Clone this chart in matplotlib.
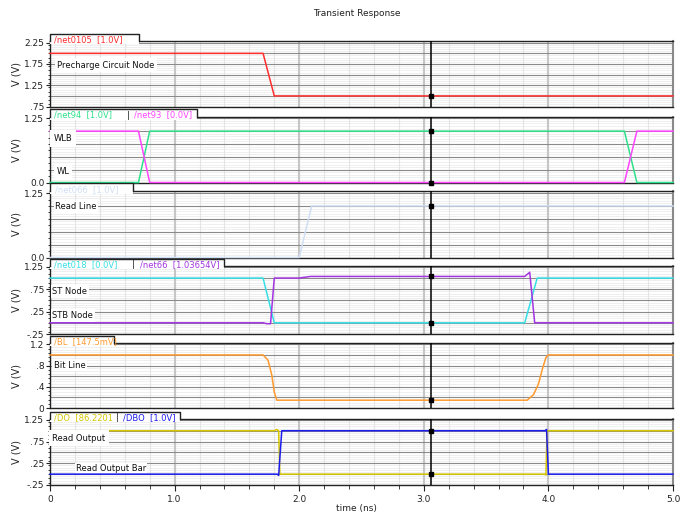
import matplotlib
matplotlib.use("Agg")
import matplotlib.pyplot as plt
from matplotlib.ticker import MultipleLocator
from matplotlib.patches import Rectangle
from matplotlib.lines import Line2D
import numpy as np

# waveform breakpoints (time in ns, value in V)
net0105_t = [0, 1.71, 1.80, 5.0]
net0105_v = [2.0, 2.0, 1.0, 1.0]

net94_t = [0, 0.71, 0.80, 4.61, 4.71, 5.0]
net94_v = [0.0, 0.0, 1.0, 1.0, 0.0, 0.0]
net93_t = [0, 0.71, 0.80, 4.61, 4.71, 5.0]
net93_v = [1.0, 1.0, 0.0, 0.0, 1.0, 1.0]

net066_t = [0, 2.0, 2.1, 5.0]
net066_v = [0.0, 0.0, 1.0, 1.0]

net018_t = [0, 1.71, 1.80, 3.81, 3.91, 5.0]
net018_v = [1.0, 1.0, 0.0, 0.0, 1.0, 1.0]
net66_t = [0, 1.71, 1.74, 1.77, 1.80, 2.0, 2.09, 3.81, 3.85, 3.89, 5.0]
net66_v = [0.0, 0.0, -0.02, -0.02, 1.0, 1.0, 1.03654, 1.03654, 1.13, 0.0, 0.0]

bl_t = [0, 1.71, 1.75, 1.78, 1.80, 1.82, 3.83, 3.88, 3.92, 3.95, 3.98, 4.0, 5.0]
bl_v = [1.0, 1.0, 0.9, 0.62, 0.3, 0.1475, 0.1475, 0.25, 0.45, 0.72, 0.95, 1.0, 1.0]

# DO low level is 86.2201 nV
do_t = [0, 1.80, 1.82, 1.835, 1.845, 3.97, 3.98, 3.99, 5.0]
do_v = [1.0, 1.0, 1.03, 1.0, 86.2201e-9, 86.2201e-9, -0.02, 1.0, 1.0]
dbo_t = [0, 1.825, 1.835, 1.86, 3.975, 3.985, 4.0, 5.0]
dbo_v = [0.0, 0.0, -0.03, 1.0, 1.0, 1.03, 0.0, 0.0]

cursor_t = 3.06

# y tick labels per strip
p1_ticks = [0.75, 1.25, 1.75, 2.25]
p1_labels = [".75", "1.25", "1.75", "2.25"]
p2_ticks = [0.0, 1.25]
p2_labels = ["0.0", "1.25"]
p4_ticks = [-0.25, 0.25, 0.75, 1.25]
p4_labels = ["-.25", ".25", ".75", "1.25"]
p5_ticks = [0.0, 0.4, 0.8, 1.2]
p5_labels = ["0", ".4", ".8", "1.2"]

x_ticks = [0, 1, 2, 3, 4, 5]
x_labels = ["0", "1.0", "2.0", "3.0", "4.0", "5.0"]

W, H = 694, 515
fig = plt.figure(figsize=(W / 100, H / 100), dpi=100)
fig.patch.set_facecolor("white")


def fx(x):
    return x / W


def fy(y):
    return 1 - y / H


def strip(top, bottom, ylim, ticks, labels, grid_step, minor_step):
    ax = fig.add_axes([fx(50), fy(bottom), fx(623), (bottom - top) / H])
    ax.set_xlim(0, 5)
    ax.set_ylim(*ylim)
    ax.xaxis.set_major_locator(MultipleLocator(1.0))
    ax.xaxis.set_minor_locator(MultipleLocator(0.2))
    ax.yaxis.set_minor_locator(MultipleLocator(minor_step))
    ax.set_yticks(ticks)
    ax.set_yticklabels(labels)
    # horizontal gridlines: dark every grid_step, faint fine lines
    lo, hi = ylim
    for yv in np.arange(np.ceil(lo / 0.05) * 0.05, hi, 0.05):
        ax.axhline(yv, color="#ececec", lw=0.6, zorder=0.5)
    for yv in np.arange(np.ceil(lo / grid_step) * grid_step, hi, grid_step):
        ax.axhline(yv, color="#8a8a8a", lw=0.8, zorder=1)
    for xv in np.arange(0.2, 5.0, 0.2):
        ax.axvline(xv, color="#e4e4e4", lw=0.8, zorder=0.6)
    for xv in [1, 2, 3, 4]:
        ax.axvline(xv, color="#c6c6c6", lw=1.5, zorder=0.7)
    ax.tick_params(axis="y", which="major", length=3, labelsize=6.5,
                   colors="#222222", pad=1)
    ax.tick_params(axis="y", which="minor", length=1.5, colors="#222222")
    ax.tick_params(axis="x", which="both", bottom=False, labelbottom=False)
    for s in ["left", "top", "bottom"]:
        ax.spines[s].set_color("#222222")
        ax.spines[s].set_linewidth(1.0)
    ax.spines["right"].set_color("#8a8a8a")
    ax.spines["right"].set_linewidth(1.5)
    ax.set_ylabel("V (V)", fontsize=7, labelpad=2, color="#222222")
    ax.yaxis.set_label_coords(-0.045, 0.5)
    # cursor
    ax.axvline(cursor_t, color="black", lw=1.1, zorder=6)
    return ax


def trace(ax, t, v, color, lw=1.1):
    ax.plot(t, v, color=color, lw=lw, clip_on=False, zorder=5)
    ax.plot([cursor_t], [np.interp(cursor_t, t, v)], "s", color="black",
            ms=3, zorder=7, clip_on=False)


def tab(top, right, texts):
    ttop = top - 7.5
    fig.add_artist(Rectangle((fx(50), fy(top + 3)), fx(right - 50), (top + 3 - ttop) / H,
                             transform=fig.transFigure, fc="white", ec="none", zorder=8))
    fig.add_artist(Line2D([fx(50), fx(50), fx(right), fx(right)],
                          [fy(top), fy(ttop), fy(ttop), fy(top)],
                          transform=fig.transFigure, color="#222222", lw=1.0, zorder=9))
    for x, s, c in texts:
        fig.text(fx(x), fy(top - 1.5), s, color=c, fontsize=6, va="center",
                 ha="left", zorder=10)


def label(ax, x, y, s, pad=0.3):
    ax.text(x, y, s, fontsize=6, color="#111111", va="center", ha="left",
            zorder=6.5, bbox=dict(boxstyle="square,pad=%s" % pad, fc="white", ec="none"))


red, green, magenta = "#ff2d2d", "#2fe08a", "#ff45ff"
pale, cyan, purple = "#cfdff5", "#36dfe6", "#a234e0"
orange, yellow, blue = "#ff9a2e", "#d6c600", "#1c1cf0"

# strip 1: precharge node
ax1 = strip(41, 107, (0.74, 2.29), p1_ticks, p1_labels, 0.25, 0.1)
trace(ax1, net0105_t, net0105_v, red)
label(ax1, 0.06, 1.72, "Precharge Circuit Node")
tab(41, 139, [(54, "/net0105  [1.0V]", red)])

# strip 2: word lines
ax2 = strip(116.5, 182.5, (0.0, 1.285), p2_ticks, p2_labels, 0.25, 0.125)
trace(ax2, net94_t, net94_v, green)
trace(ax2, net93_t, net93_v, magenta)
label(ax2, 0.03, 0.86, "WLB", pad=0.45)
label(ax2, 0.05, 0.22, "WL")
tab(116.5, 197, [(54, "/net94  [1.0V]", green), (127, "|", "#222222"),
                 (134, "/net93  [0.0V]", magenta)])

# strip 3: read line
ax3 = strip(191, 257.5, (0.0, 1.29), p2_ticks, p2_labels, 0.25, 0.125)
trace(ax3, net066_t, net066_v, pale)
label(ax3, 0.04, 0.98, "Read Line", pad=0.15)
tab(191, 133, [(55, "/net066  [1.0V]", pale)])

# strip 4: storage nodes
ax4 = strip(266, 334, (-0.25, 1.27), p4_ticks, p4_labels, 0.25, 0.1)
trace(ax4, net018_t, net018_v, cyan)
trace(ax4, net66_t, net66_v, purple)
label(ax4, 0.02, 0.70, "ST Node", pad=0.2)
label(ax4, 0.02, 0.16, "STB Node", pad=0.2)
tab(266, 224, [(54, "/net018  [0.0V]", cyan), (132, "|", "#222222"),
               (140, "/net66  [1.03654V]", purple)])

# strip 5: bit line
ax5 = strip(343, 408, (0.0, 1.225), p5_ticks, p5_labels, 0.2, 0.08)
trace(ax5, bl_t, bl_v, orange)
label(ax5, 0.03, 0.81, "Bit Line", pad=0.2)
tab(343, 114, [(54, "/BL  [147.5mV]", orange)])

# strip 6: read outputs
ax6 = strip(419, 485, (-0.25, 1.27), p4_ticks, p4_labels, 0.25, 0.1)
trace(ax6, do_t, do_v, yellow)
trace(ax6, dbo_t, dbo_v, blue)
label(ax6, 0.02, 0.83, "Read Output", pad=0.45)
label(ax6, 0.21, 0.14, "Read Output Bar", pad=0.1)
tab(419, 180, [(54, "/DO  [86.2201", yellow), (116, "|", "#222222"),
               (123, "/DBO  [1.0V]", blue)])

ax6.tick_params(axis="x", which="major", bottom=True, labelbottom=True,
                length=4, labelsize=6.5, colors="#222222")
ax6.tick_params(axis="x", which="minor", bottom=True, length=3, colors="#222222")
ax6.set_xticks(x_ticks)
ax6.set_xticklabels(x_labels)

fig.text(fx(356), fy(509), "time (ns)", fontsize=6.5, ha="center",
         va="center", color="#222222")
fig.text(fx(357), fy(14), "Transient Response", fontsize=6.5, ha="center",
         va="center", color="#222222")

fig.savefig("out.png", dpi=100, facecolor="white")
